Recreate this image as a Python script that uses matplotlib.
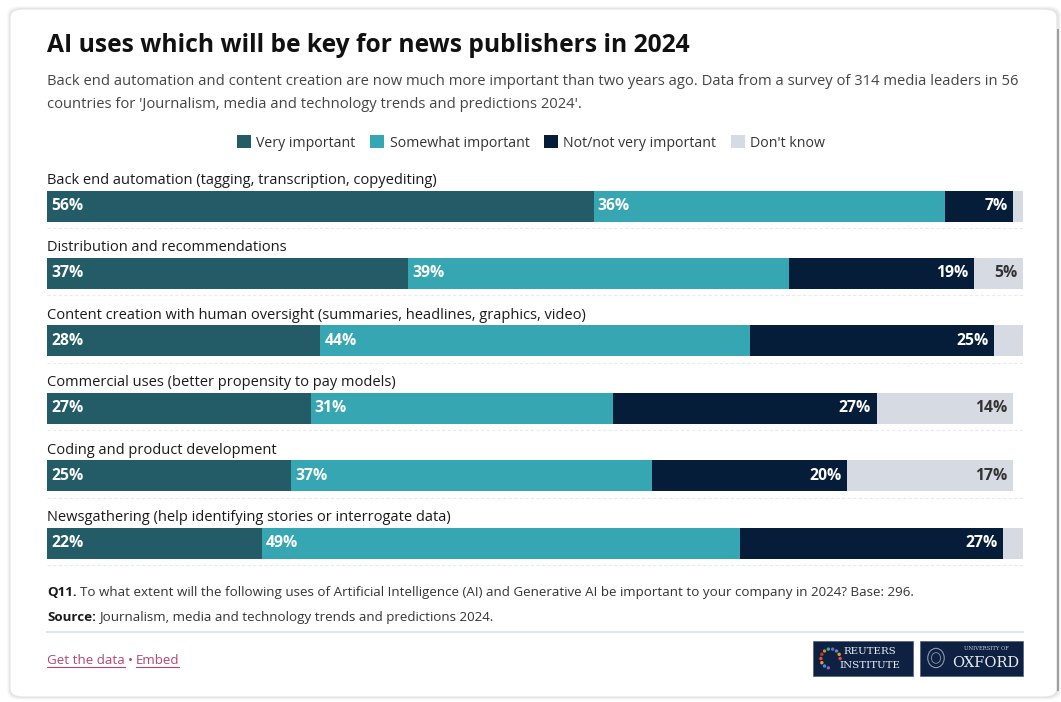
import matplotlib
matplotlib.use("Agg")
import matplotlib.pyplot as plt
from matplotlib.patches import FancyBboxPatch, Rectangle
from matplotlib.lines import Line2D
import numpy as np

plt.rcParams["font.family"] = ["Open Sans", "DejaVu Sans"]

# -- Data ----------------------------------------------------------------------
CATEGORIES = [
    "Back end automation (tagging, transcription, copyediting)",
    "Distribution and recommendations",
    "Content creation with human oversight (summaries, headlines, graphics, video)",
    "Commercial uses (better propensity to pay models)",
    "Coding and product development",
    "Newsgathering (help identifying stories or interrogate data)",
]
SERIES = ["Very important", "Somewhat important", "Not/not very important", "Don't know"]
VERY      = [56, 37, 28, 27, 25, 22]
SOMEWHAT  = [36, 39, 44, 31, 37, 49]
NOT_VERY  = [7, 19, 25, 27, 20, 27]
DONT_KNOW = [1, 5, 3, 14, 17, 2]

# -- Style ---------------------------------------------------------------------
COLORS = ["#235b66", "#37a6b3", "#061d3a", "#d6dbe3"]
DARK   = "#1a1a1a"
GREY   = "#444444"
LINK   = "#b5476a"
NAVY   = "#0e2142"

W, H = 1061, 702
fig = plt.figure(figsize=(W / 100, H / 100), dpi=100)
fig.patch.set_facecolor("white")


def fx(px):
    return px / W


def fy(py):
    return 1 - py / H


# card with soft shadow
for i, a in enumerate([0.025, 0.03, 0.04]):
    pad = (3 - i) * 2
    fig.patches.append(FancyBboxPatch(
        (fx(10 - pad / 2), fy(697 + pad / 2)), fx(1048 + pad), (688 + pad) / H,
        boxstyle="round,pad=0,rounding_size=0.012", transform=fig.transFigure,
        facecolor="black", edgecolor="none", alpha=a, zorder=-3))
fig.patches.append(FancyBboxPatch(
    (fx(10), fy(697)), fx(1047), 688 / H,
    boxstyle="round,pad=0,rounding_size=0.012", transform=fig.transFigure,
    facecolor="white", edgecolor="#e4e4e4", linewidth=0.8, zorder=-2))
fig.add_artist(Line2D([fx(1058), fx(1058)], [fy(30), fy(690)], color="#a0a0a0",
                      linewidth=1.5, transform=fig.transFigure))

# -- Header --------------------------------------------------------------------
fig.text(fx(47), fy(52), "AI uses which will be key for news publishers in 2024",
         fontsize=17.7, fontweight="bold", color="#111111", va="baseline")
fig.text(fx(47), fy(85),
         "Back end automation and content creation are now much more important than two years ago. "
         "Data from a survey of 314 media leaders in 56",
         fontsize=10.6, color=GREY, va="baseline")
fig.text(fx(47), fy(108),
         "countries for 'Journalism, media and technology trends and predictions 2024'.",
         fontsize=10.6, color=GREY, va="baseline")

handles = [Rectangle((0, 0), 1, 1, facecolor=c, edgecolor="none") for c in COLORS]
fig.legend(handles, SERIES, loc="center", bbox_to_anchor=(fx(531), fy(143)),
           ncol=4, frameon=False, fontsize=10.2, handlelength=1.0, handleheight=1.0,
           handletextpad=0.4, columnspacing=1.0, labelcolor="#333333")

# -- Bars ----------------------------------------------------------------------
ax = fig.add_axes([fx(47), fy(580), fx(1023) - fx(47), 420 / H])
ax.set_xlim(0, 100)
ax.set_ylim(5 + 37 / 67.4, -46 / 67.4)
ax.axis("off")

y = np.arange(len(CATEGORIES))
bar_h = 31 / 67.4
left = np.zeros(len(CATEGORIES))
lab = dict(va="center", fontsize=11.3, fontweight="bold", textcoords="offset points")
for s, (vals, color) in enumerate(zip([VERY, SOMEWHAT, NOT_VERY, DONT_KNOW], COLORS)):
    vals = np.array(vals, dtype=float)
    ax.barh(y, vals, left=left, height=bar_h, color=color, edgecolor="none")
    for i, v in enumerate(vals):
        if s < 2:
            ax.annotate(f"{v:.0f}%", (left[i], y[i]), xytext=(3, 0), ha="left",
                        color="white", **lab)
        elif s == 2:
            ax.annotate(f"{v:.0f}%", (left[i] + v, y[i]), xytext=(-4, 0), ha="right",
                        color="white", **lab)
        elif v >= 5:
            ax.annotate(f"{v:.0f}%", (left[i] + v, y[i]), xytext=(-4, 0), ha="right",
                        color="#333333", **lab)
    left += vals

for i, cat in enumerate(CATEGORIES):
    ax.text(0, i - 22 / 67.4, cat, fontsize=10.5, color=DARK, va="baseline", ha="left")
    ax.plot([0, 100], [i + 22 / 67.4] * 2, color="#e8eaee", linewidth=0.8,
            linestyle=(0, (3, 2)))

# -- Footer --------------------------------------------------------------------
renderer = fig.canvas.get_renderer()


def bold_lead(x, yy, lead, rest, size=9.6):
    t = fig.text(fx(x), fy(yy), lead, fontsize=size, fontweight="bold", color=DARK, va="baseline")
    bb = t.get_window_extent(renderer)
    fig.text(bb.x1 / W + fx(3), fy(yy), rest, fontsize=size, color="#333333", va="baseline")


bold_lead(47, 596, "Q11.", "To what extent will the following uses of Artificial Intelligence (AI) "
          "and Generative AI be important to your company in 2024? Base: 296.")
bold_lead(47, 621, "Source:", "Journalism, media and technology trends and predictions 2024.")
fig.add_artist(Line2D([fx(47), fx(1023)], [fy(632), fy(632)], color="#dfe3ea",
                      linewidth=1.5, transform=fig.transFigure))

t1 = fig.text(fx(47), fy(664), "Get the data", fontsize=9.6, color=LINK, va="baseline")
b1 = t1.get_window_extent(renderer)
dot = fig.text(b1.x1 / W + fx(3), fy(664), "•", fontsize=9.6, color=LINK, va="baseline")
b2 = dot.get_window_extent(renderer)
t2 = fig.text(b2.x1 / W + fx(3), fy(664), "Embed", fontsize=9.6, color=LINK, va="baseline")
b3 = t2.get_window_extent(renderer)
for b in (b1, b3):
    fig.add_artist(Line2D([b.x0 / W, b.x1 / W], [fy(667), fy(667)], color=LINK,
                          linewidth=0.8, transform=fig.transFigure))

# logos
fig.patches.append(Rectangle((fx(813), fy(676)), fx(100), 35 / H, transform=fig.transFigure,
                             facecolor=NAVY, edgecolor="#5a6780", linewidth=0.6, zorder=-1))
fig.patches.append(Rectangle((fx(920), fy(676)), fx(103), 35 / H, transform=fig.transFigure,
                             facecolor=NAVY, edgecolor="#5a6780", linewidth=0.6, zorder=-1))
ring = np.linspace(0, 2 * np.pi, 14, endpoint=False)
dot_colors = ["#e84c3d", "#f39c12", "#3498db", "#9b59b6", "#1abc9c", "#e67e22", "#c0392b"]
lx = fig.add_axes([fx(818), fy(671), fx(25), 25 / H])
lx.set_xlim(-1.3, 1.3); lx.set_ylim(-1.3, 1.3); lx.axis("off")
lx.scatter(np.cos(ring[:-3]), np.sin(ring[:-3]), s=6,
           c=[dot_colors[k % len(dot_colors)] for k in range(11)], linewidths=0)
fig.text(fx(870), fy(652), "REUTERS", fontsize=7.4, family="DejaVu Serif", color="#e8ecf2",
         ha="center", va="center")
fig.text(fx(870), fy(665), "INSTITUTE", fontsize=7.4, family="DejaVu Serif", color="#e8ecf2",
         ha="center", va="center")
ox = fig.add_axes([fx(925), fy(673), fx(22), 30 / H])
ox.set_xlim(-1.2, 1.2); ox.set_ylim(-1.4, 1.4); ox.axis("off")
ox.add_patch(plt.Circle((0, 0), 0.9, fill=False, edgecolor="#8d98ab", linewidth=0.8))
ox.add_patch(plt.Circle((0, 0), 0.5, fill=False, edgecolor="#8d98ab", linewidth=0.6))
fig.text(fx(986), fy(648), "UNIVERSITY OF", fontsize=3.8, family="DejaVu Serif",
         color="#c9d0dc", ha="center", va="center")
fig.text(fx(986), fy(663), "OXFORD", fontsize=10.5, family="DejaVu Serif", color="#e8ecf2",
         ha="center", va="center")

fig.savefig("out.png", dpi=100)
